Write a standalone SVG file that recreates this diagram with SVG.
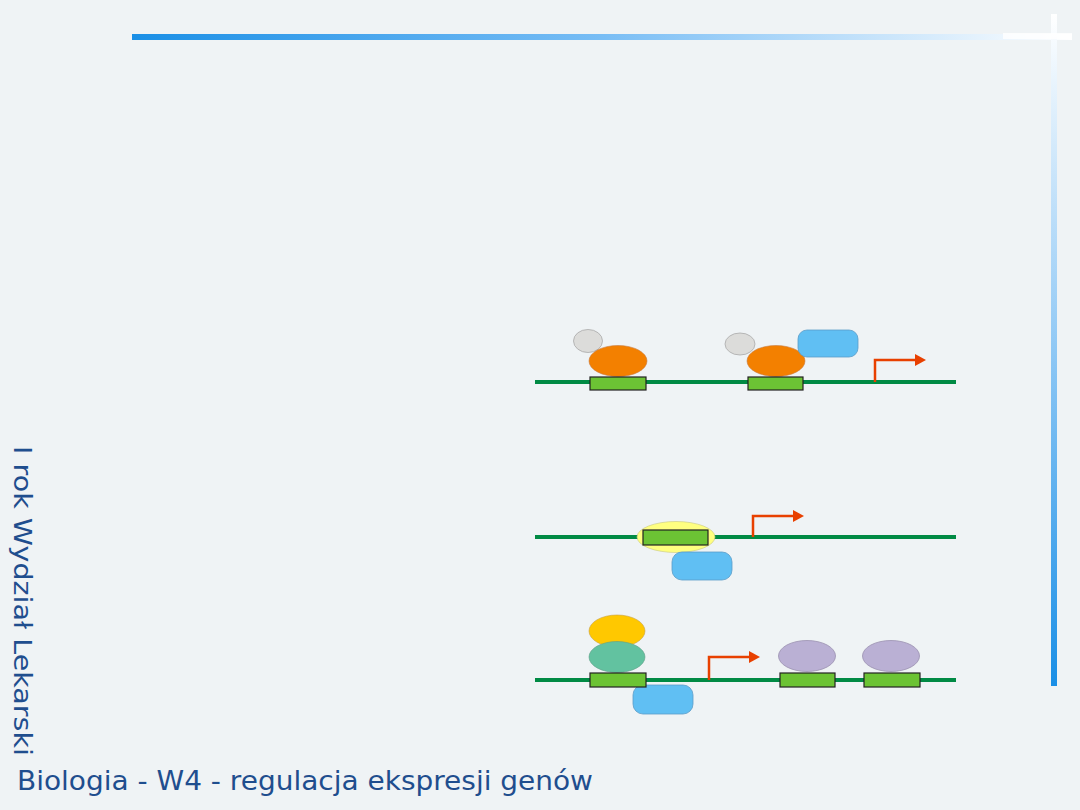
<svg xmlns="http://www.w3.org/2000/svg" width="1080" height="810" viewBox="0 0 1080 810">
<style>
.dna{stroke:#008A44;stroke-width:4;fill:none}
.box{fill:#6CC334;stroke:#222;stroke-width:1.2}
.orange{fill:#F38000;stroke:#c87a40;stroke-width:0.6}
.grey{fill:#DCDCDA;stroke:#aaa;stroke-width:0.8}
.blue{fill:#60BFF3;stroke:#5a9cc8;stroke-width:0.8}
.purple{fill:#BAB0D4;stroke:#9a90b0;stroke-width:0.8}
.arrow{stroke:#E84000;stroke-width:2.5;fill:none}
.title{font-family:"DejaVu Sans",Verdana,sans-serif;fill:#1F4E8E}
</style>
<defs>
<linearGradient id="hbar" x1="0" y1="0" x2="1" y2="0">
<stop offset="0" stop-color="#1A8FE6"/>
<stop offset="0.5" stop-color="#78BDF5"/>
<stop offset="1" stop-color="#FFFFFF"/>
</linearGradient>
<linearGradient id="vbar" x1="0" y1="0" x2="0" y2="1">
<stop offset="0" stop-color="#FFFFFF"/>
<stop offset="0.5" stop-color="#8FC8F5"/>
<stop offset="1" stop-color="#1A8FE6"/>
</linearGradient>
<marker id="ah" markerWidth="12" markerHeight="12" refX="0" refY="6" orient="auto" markerUnits="userSpaceOnUse">
<path d="M0,0 L11,6 L0,12 Z" fill="#E84000"/>
</marker>
</defs>
<rect width="1080" height="810" fill="#EFF3F5"/>
<g id="decor">
<rect x="132" y="34" width="940" height="6" fill="url(#hbar)"/>
<rect x="1051" y="14" width="6" height="672" fill="url(#vbar)"/>
<rect x="1003" y="33" width="69" height="6" fill="#FFFFFF" opacity="0.8"/>
</g>
<g id="side-label">
<text class="title" x="0" y="0" font-size="24" transform="translate(14,446) rotate(90)" textLength="310" lengthAdjust="spacingAndGlyphs">I rok Wydział Lekarski</text>
</g>
<g id="footer">
<text class="title" x="17" y="790" font-size="26" textLength="576" lengthAdjust="spacingAndGlyphs">Biologia - W4 - regulacja ekspresji genów</text>
</g>
<g id="connectors">
<line class="dna" x1="535" y1="382" x2="956" y2="382"/>
<line class="dna" x1="535" y1="537" x2="956" y2="537"/>
<line class="dna" x1="535" y1="680" x2="956" y2="680"/>
<path class="arrow" d="M875,382 V360 H915" marker-end="url(#ah)"/>
<path class="arrow" d="M753,537 V516 H793" marker-end="url(#ah)"/>
<path class="arrow" d="M709,680 V657 H749" marker-end="url(#ah)"/>
</g>
<g id="row1">
<g id="r1-site1">
<ellipse class="grey" cx="588" cy="341" rx="14.5" ry="11.5"/>
<ellipse class="orange" cx="618" cy="361" rx="29" ry="15.5"/>
<rect class="box" x="590" y="377" width="56" height="13"/>
</g>
<g id="r1-site2">
<ellipse class="grey" cx="740" cy="344" rx="15" ry="11"/>
<ellipse class="orange" cx="776" cy="361" rx="29" ry="15.5"/>
<rect class="blue" x="798" y="330" width="60" height="27" rx="9"/>
<rect class="box" x="748" y="377" width="55" height="13"/>
</g>
</g>
<g id="row2">
<ellipse cx="676" cy="537" rx="39" ry="15.5" fill="#FFFF80" stroke="#c8c880" stroke-width="0.6"/>
<rect class="box" x="643" y="530" width="65" height="15"/>
<rect class="blue" x="672" y="552" width="60" height="28" rx="10"/>
</g>
<g id="row3">
<g id="r3-site1">
<ellipse cx="617" cy="631" rx="28" ry="16" fill="#FFC800" stroke="#c8a040" stroke-width="0.6"/>
<ellipse cx="617" cy="657" rx="28" ry="15.5" fill="#62C2A0" stroke="#60a088" stroke-width="0.6"/>
<rect class="blue" x="633" y="685" width="60" height="29" rx="10"/>
<rect class="box" x="590" y="673" width="56" height="14"/>
</g>
<g id="r3-site2">
<ellipse class="purple" cx="807" cy="656" rx="28.5" ry="15.5"/>
<rect class="box" x="780" y="673" width="55" height="14"/>
</g>
<g id="r3-site3">
<ellipse class="purple" cx="891" cy="656" rx="28.5" ry="15.5"/>
<rect class="box" x="864" y="673" width="56" height="14"/>
</g>
</g>
</svg>
